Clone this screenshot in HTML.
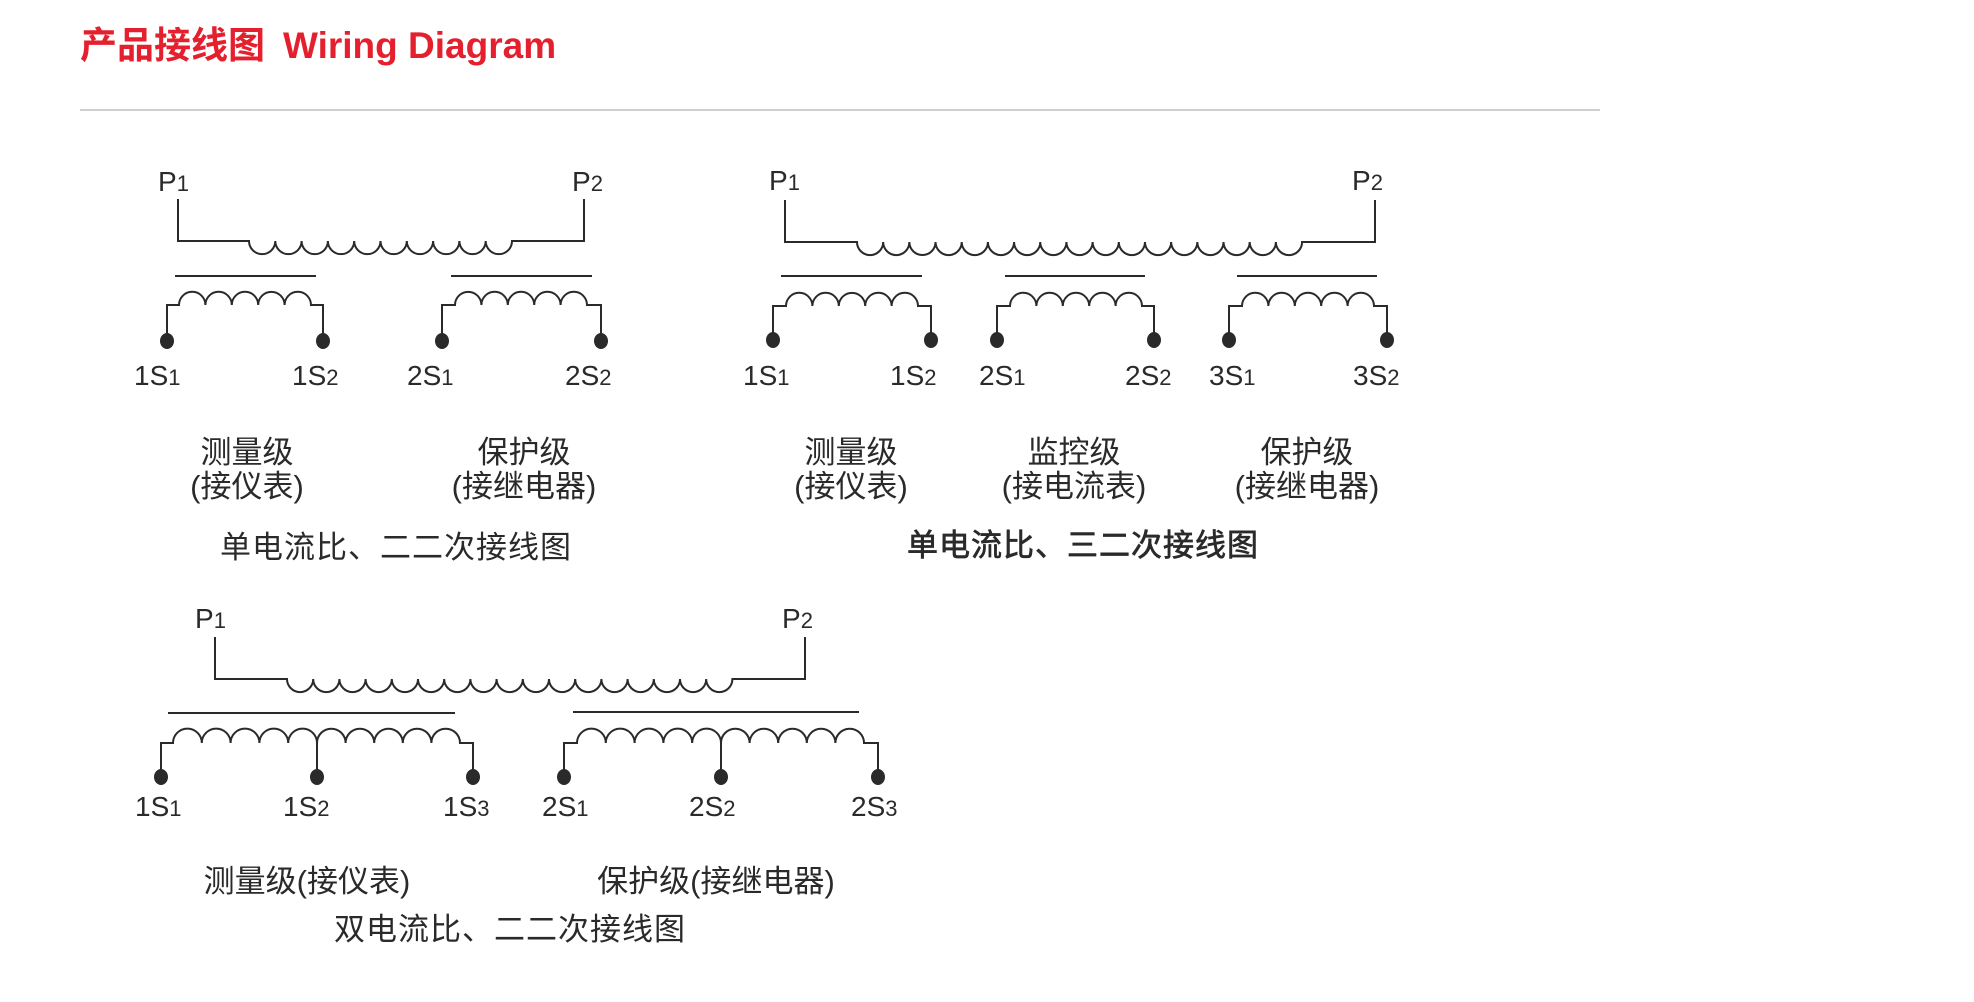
<!DOCTYPE html>
<html><head><meta charset="utf-8"><style>
html,body{margin:0;padding:0;background:#fff;}
svg{display:block;}
.t{font-family:"Liberation Sans","Noto Sans CJK SC",sans-serif;fill:#2a2a2a;}
.lb{font-size:28px;}
.lb tspan{font-size:22px;}
.cn{font-size:31px;text-anchor:middle;}
</style></head><body>
<svg width="1974" height="1002" viewBox="0 0 1974 1002" xmlns="http://www.w3.org/2000/svg">
<text x="80" y="58" font-family="'Liberation Sans','Noto Sans CJK SC',sans-serif" font-weight="bold" fill="#e5202e"><tspan font-size="37px">产品接线图</tspan><tspan dx="18" font-size="37px">Wiring Diagram</tspan></text>
<line x1="80" y1="110" x2="1600" y2="110" stroke="#cfcfcf" stroke-width="2"/>
<g fill="none" stroke="#2a2a2a" stroke-width="2">
<path d="M178,199 V241 H249 a13.15,13.15 0 0 0 26.3,0 a13.15,13.15 0 0 0 26.3,0 a13.15,13.15 0 0 0 26.3,0 a13.15,13.15 0 0 0 26.3,0 a13.15,13.15 0 0 0 26.3,0 a13.15,13.15 0 0 0 26.3,0 a13.15,13.15 0 0 0 26.3,0 a13.15,13.15 0 0 0 26.3,0 a13.15,13.15 0 0 0 26.3,0 a13.15,13.15 0 0 0 26.3,0 H584 V199"/>
<line x1="175" y1="276" x2="316" y2="276"/><line x1="451" y1="276" x2="592" y2="276"/>
<path d="M167,341 V305 H179 a13.2,13.2 0 0 1 26.4,0 a13.2,13.2 0 0 1 26.4,0 a13.2,13.2 0 0 1 26.4,0 a13.2,13.2 0 0 1 26.4,0 a13.2,13.2 0 0 1 26.4,0 H323 V341"/>
<path d="M442,341 V305 H455 a13.2,13.2 0 0 1 26.4,0 a13.2,13.2 0 0 1 26.4,0 a13.2,13.2 0 0 1 26.4,0 a13.2,13.2 0 0 1 26.4,0 a13.2,13.2 0 0 1 26.4,0 H601 V341"/>
<path d="M785,200 V242 H857 a13.09,13.09 0 0 0 26.18,0 a13.09,13.09 0 0 0 26.18,0 a13.09,13.09 0 0 0 26.18,0 a13.09,13.09 0 0 0 26.18,0 a13.09,13.09 0 0 0 26.18,0 a13.09,13.09 0 0 0 26.18,0 a13.09,13.09 0 0 0 26.18,0 a13.09,13.09 0 0 0 26.18,0 a13.09,13.09 0 0 0 26.18,0 a13.09,13.09 0 0 0 26.18,0 a13.09,13.09 0 0 0 26.18,0 a13.09,13.09 0 0 0 26.18,0 a13.09,13.09 0 0 0 26.18,0 a13.09,13.09 0 0 0 26.18,0 a13.09,13.09 0 0 0 26.18,0 a13.09,13.09 0 0 0 26.18,0 a13.09,13.09 0 0 0 26.18,0 H1375 V200"/>
<line x1="781" y1="276" x2="922" y2="276"/><line x1="1005" y1="276" x2="1145" y2="276"/><line x1="1237" y1="276" x2="1377" y2="276"/>
<path d="M773,340 V306 H786 a13.2,13.2 0 0 1 26.4,0 a13.2,13.2 0 0 1 26.4,0 a13.2,13.2 0 0 1 26.4,0 a13.2,13.2 0 0 1 26.4,0 a13.2,13.2 0 0 1 26.4,0 H931 V340"/>
<path d="M997,340 V306 H1010 a13.2,13.2 0 0 1 26.4,0 a13.2,13.2 0 0 1 26.4,0 a13.2,13.2 0 0 1 26.4,0 a13.2,13.2 0 0 1 26.4,0 a13.2,13.2 0 0 1 26.4,0 H1154 V340"/>
<path d="M1229,340 V306 H1242 a13.2,13.2 0 0 1 26.4,0 a13.2,13.2 0 0 1 26.4,0 a13.2,13.2 0 0 1 26.4,0 a13.2,13.2 0 0 1 26.4,0 a13.2,13.2 0 0 1 26.4,0 H1387 V340"/>
<path d="M215,637 V679 H287 a13.1,13.1 0 0 0 26.2,0 a13.1,13.1 0 0 0 26.2,0 a13.1,13.1 0 0 0 26.2,0 a13.1,13.1 0 0 0 26.2,0 a13.1,13.1 0 0 0 26.2,0 a13.1,13.1 0 0 0 26.2,0 a13.1,13.1 0 0 0 26.2,0 a13.1,13.1 0 0 0 26.2,0 a13.1,13.1 0 0 0 26.2,0 a13.1,13.1 0 0 0 26.2,0 a13.1,13.1 0 0 0 26.2,0 a13.1,13.1 0 0 0 26.2,0 a13.1,13.1 0 0 0 26.2,0 a13.1,13.1 0 0 0 26.2,0 a13.1,13.1 0 0 0 26.2,0 a13.1,13.1 0 0 0 26.2,0 a13.1,13.1 0 0 0 26.2,0 H805 V637"/>
<line x1="168" y1="713" x2="455" y2="713"/><line x1="573" y1="712" x2="859" y2="712"/>
<path d="M161,777 V743 H173 a14.4,14.4 0 0 1 28.8,0 a14.4,14.4 0 0 1 28.8,0 a14.4,14.4 0 0 1 28.8,0 a14.4,14.4 0 0 1 28.8,0 a14.4,14.4 0 0 1 28.8,0 a14.3,14.3 0 0 1 28.6,0 a14.3,14.3 0 0 1 28.6,0 a14.3,14.3 0 0 1 28.6,0 a14.3,14.3 0 0 1 28.6,0 a14.3,14.3 0 0 1 28.6,0 H473 V777 M317,743 V777"/>
<path d="M564,777 V743 H577 a14.4,14.4 0 0 1 28.8,0 a14.4,14.4 0 0 1 28.8,0 a14.4,14.4 0 0 1 28.8,0 a14.4,14.4 0 0 1 28.8,0 a14.4,14.4 0 0 1 28.8,0 a14.3,14.3 0 0 1 28.6,0 a14.3,14.3 0 0 1 28.6,0 a14.3,14.3 0 0 1 28.6,0 a14.3,14.3 0 0 1 28.6,0 a14.3,14.3 0 0 1 28.6,0 H878 V777 M721,743 V777"/>
</g>
<g fill="#2a2a2a">
<ellipse cx="167" cy="341" rx="7" ry="8"/><ellipse cx="323" cy="341" rx="7" ry="8"/><ellipse cx="442" cy="341" rx="7" ry="8"/><ellipse cx="601" cy="341" rx="7" ry="8"/>
<ellipse cx="773" cy="340" rx="7" ry="8"/><ellipse cx="931" cy="340" rx="7" ry="8"/><ellipse cx="997" cy="340" rx="7" ry="8"/><ellipse cx="1154" cy="340" rx="7" ry="8"/><ellipse cx="1229" cy="340" rx="7" ry="8"/><ellipse cx="1387" cy="340" rx="7" ry="8"/>
<ellipse cx="161" cy="777" rx="7" ry="8"/><ellipse cx="317" cy="777" rx="7" ry="8"/><ellipse cx="473" cy="777" rx="7" ry="8"/><ellipse cx="564" cy="777" rx="7" ry="8"/><ellipse cx="721" cy="777" rx="7" ry="8"/><ellipse cx="878" cy="777" rx="7" ry="8"/>
</g>
<g class="t lb">
<text x="158" y="191">P<tspan>1</tspan></text><text x="572" y="191">P<tspan>2</tspan></text>
<text x="134" y="385">1S<tspan>1</tspan></text><text x="292" y="385">1S<tspan>2</tspan></text><text x="407" y="385">2S<tspan>1</tspan></text><text x="565" y="385">2S<tspan>2</tspan></text>
<text x="769" y="190">P<tspan>1</tspan></text><text x="1352" y="190">P<tspan>2</tspan></text>
<text x="743" y="385">1S<tspan>1</tspan></text><text x="890" y="385">1S<tspan>2</tspan></text><text x="979" y="385">2S<tspan>1</tspan></text><text x="1125" y="385">2S<tspan>2</tspan></text><text x="1209" y="385">3S<tspan>1</tspan></text><text x="1353" y="385">3S<tspan>2</tspan></text>
<text x="195" y="628">P<tspan>1</tspan></text><text x="782" y="628">P<tspan>2</tspan></text>
<text x="135" y="816">1S<tspan>1</tspan></text><text x="283" y="816">1S<tspan>2</tspan></text><text x="443" y="816">1S<tspan>3</tspan></text><text x="542" y="816">2S<tspan>1</tspan></text><text x="689" y="816">2S<tspan>2</tspan></text><text x="851" y="816">2S<tspan>3</tspan></text>
</g>
<g class="t cn">
<text x="247" y="463">测量级</text><text x="247" y="497">(接仪表)</text>
<text x="524" y="463">保护级</text><text x="524" y="497">(接继电器)</text>
<text x="396" y="558" letter-spacing="1">单电流比、二二次接线图</text>
<text x="851" y="463">测量级</text><text x="851" y="497">(接仪表)</text>
<text x="1074" y="463">监控级</text><text x="1074" y="497">(接电流表)</text>
<text x="1307" y="463">保护级</text><text x="1307" y="497">(接继电器)</text>
<text x="1083" y="556" letter-spacing="1" stroke="#2a2a2a" stroke-width="0.7">单电流比、三二次接线图</text>
<text x="307" y="892">测量级(接仪表)</text>
<text x="716" y="892">保护级(接继电器)</text>
<text x="510" y="940" letter-spacing="1">双电流比、二二次接线图</text>
</g>
</svg>
</body></html>
